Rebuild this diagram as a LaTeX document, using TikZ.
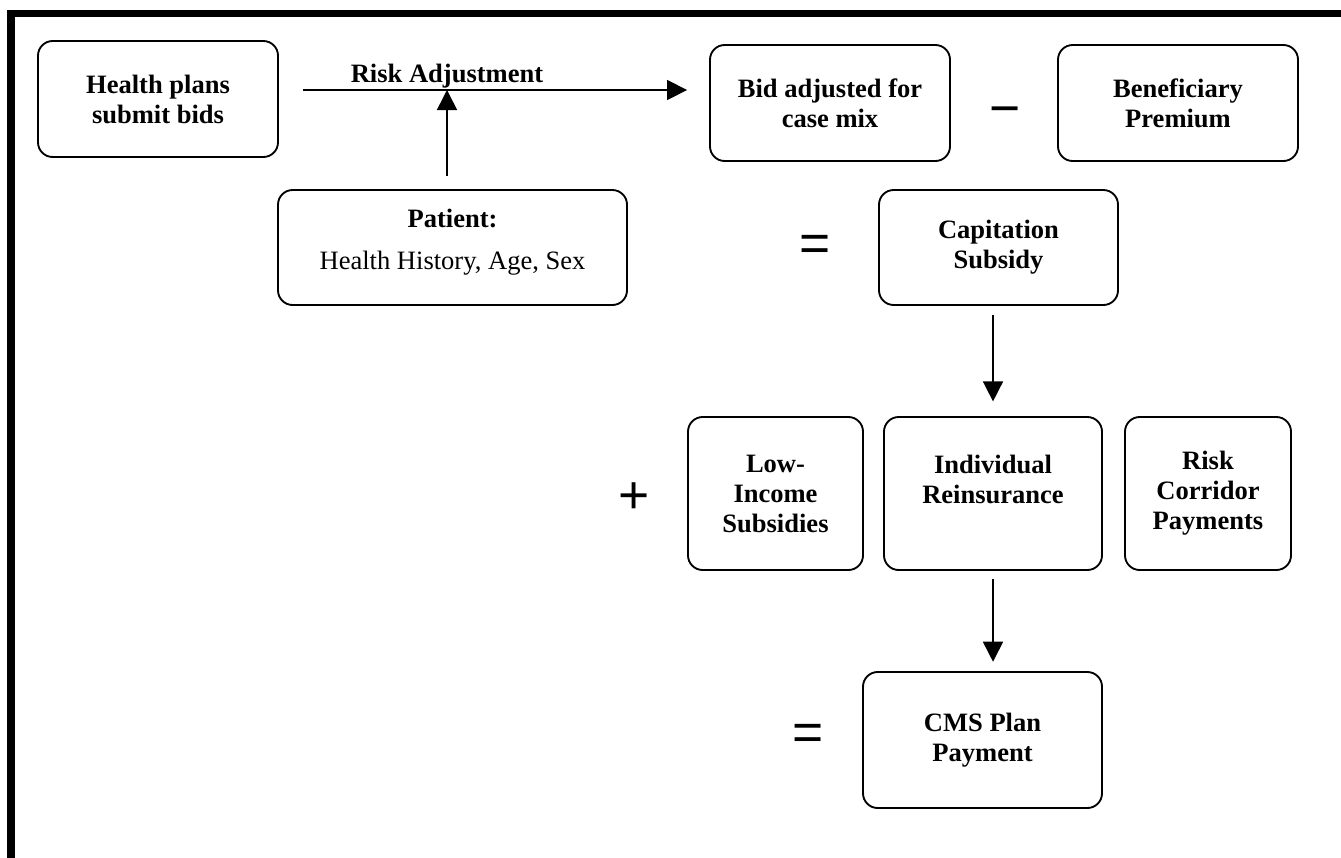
\documentclass[tikz,border=0pt]{standalone}
\usepackage{fontspec}
\setmainfont{Liberation Serif}
\newfontfamily\opfont{Liberation Sans}
\usetikzlibrary{arrows.meta, positioning}
\tikzset{>={Triangle[length=15pt, width=15pt]}}

\begin{document}
\begin{tikzpicture}[x=0.75pt, y=-0.75pt,
  every node/.style={font=\fontsize{19.9}{22.5}\selectfont},
  stage/.style={draw, line width=1.4pt, rounded corners=11pt, align=center, inner sep=0pt,
    font=\fontsize{19.9}{22.5}\selectfont\bfseries},
  wide/.style={stage, minimum width=180pt, minimum height=87pt},
  tall/.style={stage, minimum height=114.75pt},
  tag/.style={inner sep=0pt, font=\fontsize{19.9}{22.5}\selectfont\bfseries},
  op/.style={inner sep=0pt, font=\opfont\fontsize{40}{40}\selectfont},
  flow/.style={->, line width=1.2pt}
]
\useasboundingbox (0,0) rectangle (1341,857);

% Frame
\draw[line width=5.6pt] (11,880) -- (11,13.5) -- (1360,13.5);

% Bids and risk adjustment
\node[wide] (plans) at (158,99) {Health plans\\submit bids};
\node[stage, minimum width=261.75pt, minimum height=86.25pt, text depth=12pt] (patient) at (452.5,247.5)
  {Patient:\\[9pt]{\mdseries Health History, Age, Sex}};
\node[wide] (bid) at (830,103) {Bid adjusted for\\case mix};
\node[wide] (benef) at (1178,103) {Beneficiary\\Premium};
\node[stage, minimum width=179.25pt, minimum height=86.25pt] (cap) at (998.5,247.5) {Capitation\\Subsidy};

% Payments
\node[tall, minimum width=131.25pt] (low) at (775.5,493.5) {Low-\\Income\\Subsidies};
\node[tall, minimum width=163.5pt, text depth=22pt] (ind) at (993,493.5) {Individual\\Reinsurance};
\node[tall, minimum width=124.5pt] (corr) at (1208,493.5) {Risk\\Corridor\\Payments};
\node[stage, minimum width=179.25pt, minimum height=102pt] (cms) at (982.5,740) {CMS Plan\\Payment};

% Operators
\node[op] (minus) at (1005,117) {−};
\node[op] (eqcap) at (815,248) {=};
\node[op] (plus) at (634,498) {+};
\node[op] (eqcms) at (808,737) {=};

% Connectors
\coordinate (ra) at (447,90);
\node[tag, above=1.5pt of ra] (riskadj) {Risk Adjustment};
\draw[flow, shorten <=18pt, shorten >=16.5pt] (plans.east |- ra) -- (bid.west |- ra);
\draw[flow, shorten <=10pt] (patient.north -| ra) -- (ra);
\draw[flow, shorten <=7pt, shorten >=11pt] (cap.south -| ind) -- (ind.north);
\draw[flow, shorten <=6pt, shorten >=7pt] (ind.south) -- (ind.south |- cms.north);

\end{tikzpicture}
\end{document}
